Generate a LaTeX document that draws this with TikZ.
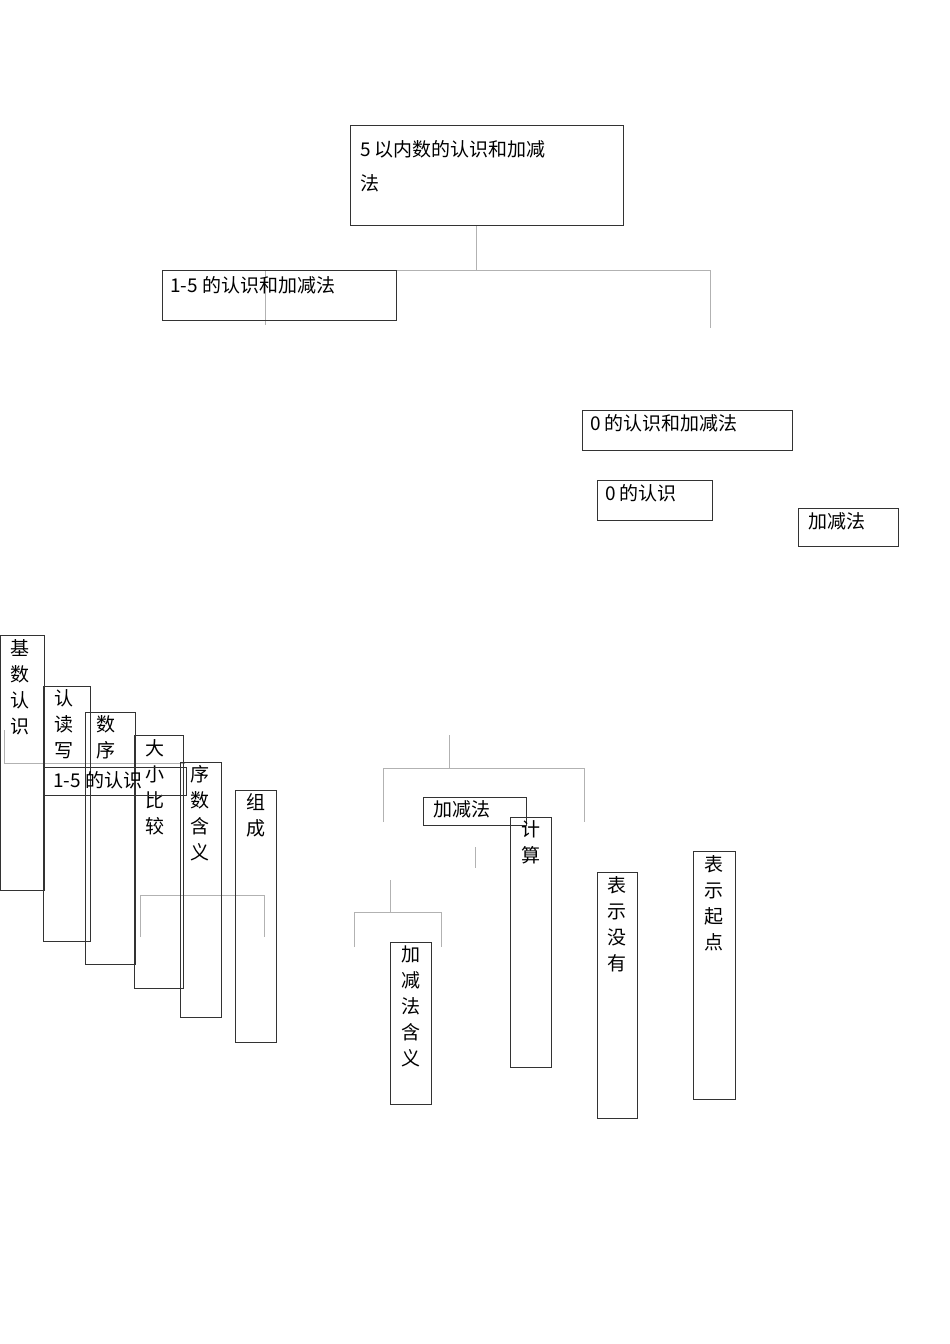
\documentclass[tikz,border=0pt]{standalone}
\usepackage{fontspec}
\setmainfont{Noto Sans CJK SC}
\begin{document}
\begin{tikzpicture}[x=1pt,y=-1pt,
 bx/.style={draw=black!80,line width=0.8pt},
 gl/.style={draw=black!30,line width=0.6pt},
 tx/.style={font=\fontsize{19}{26}\selectfont,inner sep=0pt,anchor=north west,align=left},
 vt/.style={font=\fontsize{19}{26}\selectfont,inner sep=0pt,anchor=north,align=center}]
\useasboundingbox (0,0) rectangle (950,1344);
% gray connectors
\draw[gl] (476,225)--(476,270) (265,270)--(710,270) (710,270)--(710,328) (265,270)--(265,325);
\draw[gl] (4,730)--(4,763) (4,763)--(185,763);
\draw[gl] (140,937)--(140,895)--(264,895)--(264,937);
\draw[gl] (449,735)--(449,768) (383,822)--(383,768)--(584,768)--(584,822);
\draw[gl] (475,847)--(475,868) (390,880)--(390,912) (354,947)--(354,912)--(441,912)--(441,947);
% boxes
\draw[bx] (350,125) rectangle (623,225);
\node[tx] (top) at (360,140) {5 以内数的认识和加减\\[8pt]法};
\draw[bx] (162,270) rectangle (396,320);
\node[tx] (a) at (170,276) {1-5 的认识和加减法};
\draw[bx] (582,410) rectangle (792,450);
\node[tx] (b) at (590,414) {0 的认识和加减法};
\draw[bx] (597,480) rectangle (712,520);
\node[tx] (c) at (605,484) {0 的认识};
\draw[bx] (798,508) rectangle (898,546);
\node[tx] (d) at (808,512) {加减法};
\draw[bx] (0,635) rectangle (44,890);
\node[vt] (e) at (20,639) {基\\数\\认\\识};
\draw[bx] (43,686) rectangle (90,941);
\node[vt] (f) at (64,689) {认\\读\\写};
\draw[bx] (85,712) rectangle (135,964);
\node[vt] (g) at (106,715) {数\\序};
\draw[bx] (134,735) rectangle (183,988);
\node[vt] (h) at (155,739) {大\\小\\比\\较};
\draw[bx] (180,762) rectangle (221,1017);
\node[vt] (i) at (200,765) {序\\数\\含\\义};
\draw[bx] (235,790) rectangle (276,1042);
\node[vt] (j) at (256,793) {组\\成};
\draw[bx] (44,767) rectangle (186,795);
\node[tx] (k) at (53,771) {1-5 的认识};
\draw[bx] (423,797) rectangle (526,825);
\node[tx] (l) at (433,800) {加减法};
\draw[bx] (510,817) rectangle (551,1067);
\node[vt] (m) at (531,820) {计\\算};
\draw[bx] (390,942) rectangle (431,1104);
\node[vt] (n) at (411,946) {加\\减\\法\\含\\义};
\draw[bx] (597,872) rectangle (637,1118);
\node[vt] (o) at (617,876) {表\\示\\没\\有};
\draw[bx] (693,851) rectangle (735,1099);
\node[vt] (p) at (714,855) {表\\示\\起\\点};
\end{tikzpicture}
\end{document}
